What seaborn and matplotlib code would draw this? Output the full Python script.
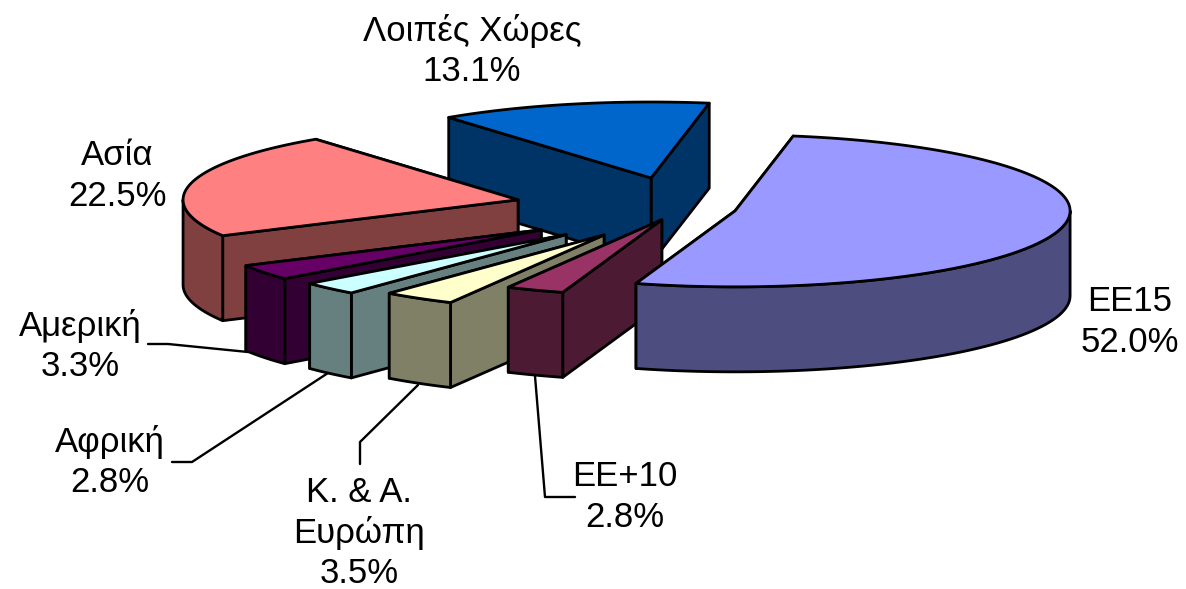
"""Exploded 3D pie of shares per region, drawn as projected polygons"""
import numpy as np
import seaborn as sns
import matplotlib
matplotlib.use("Agg")
import matplotlib.pyplot as plt

# clockwise from the start angle
regions = ["ΕΕ15", "ΕΕ+10", "Κ. & Α.\nΕυρώπη", "Αφρική", "Αμερική", "Ασία", "Λοιπές Χώρες"]
shares = [52.0, 2.8, 3.5, 2.8, 3.3, 22.5, 13.1]
explode = [0.16, 0.167, 0.426, 0.494, 0.511, 0.504, 0.406]
top_colors = ["#9999FF", "#993366", "#FFFFCC", "#CCFFFF", "#660066", "#FF8080", "#0066CC"]
side_colors = ["#4D4D80", "#4D1A33", "#808066", "#668080", "#330033", "#804040", "#003366"]
label_pos = [(1130, 322), (625, 497), (359, 533), (110, 462), (80, 346), (117, 176), (472, 51)]
draw_order = [6, 5, 4, 3, 2, 1, 0]
leader_x = [[], [575, 545, 535], [360, 360, 418], [172, 192, 328], [148, 168, 248], [], []]
leader_y = [[], [497, 497, 376], [464, 442, 385], [462, 462, 373], [344, 344, 352], [], []]

START = 10.0
RX, RY = 335.0, 76.0
DEPTH = 85.0
CENTER = (683.0, 208.0)
EDGE = 2.0

sns.set_theme(style="white")
plt.rcParams["font.family"] = ["Liberation Sans", "DejaVu Sans"]

fig, ax = plt.subplots(figsize=(11.86, 5.89), dpi=100)
fig.subplots_adjust(0, 0, 1, 1)
ax.set_xlim(0, 1186)
ax.set_ylim(589, 0)
ax.axis("off")

edges = START + np.concatenate([[0], np.cumsum(shares)]) * 3.6


def ring(cx, cy, angles):
    rad = np.radians(angles)
    return cx + RX * np.sin(rad), cy - RY * np.cos(rad)


def face(xs, ys, color, z):
    ax.fill(xs, ys, facecolor=color, edgecolor="black", linewidth=EDGE,
            joinstyle="round", zorder=z)


for step, i in enumerate(draw_order):
    t0, t1 = edges[i], edges[i + 1]
    mid = np.radians((t0 + t1) / 2)
    cx = CENTER[0] + explode[i] * RX * np.sin(mid)
    cy = CENTER[1] - explode[i] * RY * np.cos(mid)
    z = 2 + step * 3

    # cut faces, the one further back first
    cuts = sorted([t0, t1], key=lambda t: -np.cos(np.radians(t)))
    for t in cuts:
        ex, ey = ring(cx, cy, np.array([t]))
        face([cx, ex[0], ex[0], cx], [cy, ey[0], ey[0] + DEPTH, cy + DEPTH], side_colors[i], z)

    # outer wall, only the part facing the viewer
    w0, w1 = max(t0, 90), min(t1, 270)
    if w1 > w0:
        ax_, ay_ = ring(cx, cy, np.linspace(w0, w1, 60))
        face(np.r_[ax_, ax_[::-1]], np.r_[ay_, ay_[::-1] + DEPTH], side_colors[i], z + 1)

    # top
    ax_, ay_ = ring(cx, cy, np.linspace(t0, t1, 120))
    face(np.r_[cx, ax_], np.r_[cy, ay_], top_colors[i], z + 2)

for name, val, pos in zip(regions, shares, label_pos):
    ax.text(pos[0], pos[1], f"{name}\n{val:.1f}%", ha="center", va="center", ma="center",
            fontsize=25, color="black", linespacing=1.27, zorder=40)

for xs, ys in zip(leader_x, leader_y):
    if xs:
        ax.plot(xs, ys, color="black", linewidth=1.7, zorder=1)

fig.savefig("out.png", dpi=100)
